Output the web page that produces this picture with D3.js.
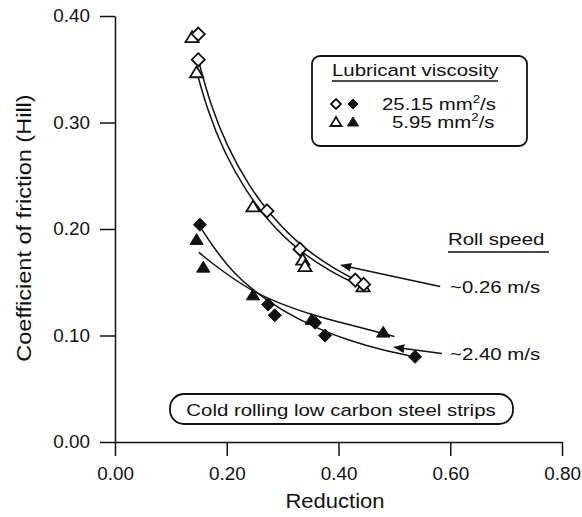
<!DOCTYPE html>
<html>
<head>
<meta charset="utf-8">
<script src="https://cdn.jsdelivr.net/npm/d3@7"></script>
<style>
body { margin: 0; background: white; }
text { font-family: "Liberation Sans", Arial, sans-serif; fill: #111; }
.axis path, .axis line { stroke: #111; stroke-width: 1.5; }
.axis text { font-size: 18px; font-family: "Liberation Sans", Arial, sans-serif; }
.fit { fill: none; stroke: #111; stroke-width: 1.5; }
</style>
</head>
<body>
<div id="chart"></div>
<script>
// -- data

var xTicks = [0, 0.2, 0.4, 0.6, 0.8];
var yTicks = [0, 0.1, 0.2, 0.3, 0.4];

// open symbols: ~0.26 m/s, filled symbols: ~2.40 m/s
var openDiamond = [[0.149, 0.383], [0.149, 0.359], [0.272, 0.217], [0.331, 0.181], [0.430, 0.152], [0.445, 0.148]];
var openTriangle = [[0.138, 0.380], [0.146, 0.347], [0.247, 0.221], [0.336, 0.171], [0.340, 0.165], [0.444, 0.146]];
var filledDiamond = [[0.152, 0.204], [0.274, 0.129], [0.286, 0.119], [0.358, 0.112], [0.376, 0.100], [0.537, 0.080]];
var filledTriangle = [[0.146, 0.190], [0.158, 0.164], [0.247, 0.138], [0.352, 0.115], [0.480, 0.103]];

// fitted curves, traced
var upperDiamondFit = [[0.150, 0.357], [0.170, 0.318], [0.200, 0.278], [0.240, 0.240], [0.280, 0.212], [0.330, 0.185], [0.390, 0.163], [0.450, 0.147]];
var upperTriangleFit = [[0.145, 0.350], [0.165, 0.312], [0.195, 0.272], [0.235, 0.235], [0.275, 0.207], [0.325, 0.181], [0.385, 0.160], [0.445, 0.145]];
var lowerDiamondFit = [[0.155, 0.200], [0.180, 0.180], [0.210, 0.160], [0.250, 0.141], [0.300, 0.123], [0.360, 0.107], [0.420, 0.095], [0.480, 0.086], [0.545, 0.079]];
var lowerTriangleFit = [[0.150, 0.178], [0.190, 0.161], [0.250, 0.140], [0.300, 0.129], [0.360, 0.118], [0.420, 0.110], [0.480, 0.102], [0.500, 0.099]];

// roll speed leaders: [label end, arrow tip]
var leader026 = [[0.582, 0.146], [0.405, 0.166]];
var leader240 = [[0.585, 0.083], [0.500, 0.089]];

// -- setup

var W = 582, H = 517;
var svg = d3.select("#chart").append("svg")
	.attr("width", W)
	.attr("height", H);

var x = d3.scaleLinear().domain([0, 0.8]).range([115, 562]);
var y = d3.scaleLinear().domain([0, 0.4]).range([442, 16]);

// the scan's lettering is wider than Arial, so stretch it a bit
function txt(px, py, str, size, sx, anchor) {
	return svg.append("text")
		.attr("transform", "translate(" + px + "," + py + ") scale(" + sx + ",1)")
		.attr("text-anchor", anchor || "start")
		.style("font-size", size + "px")
		.text(str);
}

svg.append("defs").append("marker")
	.attr("id", "arrow")
	.attr("viewBox", "0 0 10 10")
	.attr("refX", 9).attr("refY", 5)
	.attr("markerWidth", 11).attr("markerHeight", 11)
	.attr("markerUnits", "userSpaceOnUse")
	.attr("orient", "auto")
	.append("path")
	.attr("d", "M0,1 L10,5 L0,9 Z")
	.attr("fill", "#111");

// axes
var xAxis = svg.append("g")
	.attr("class", "axis")
	.attr("transform", "translate(0,442)")
	.call(d3.axisBottom(x).tickValues(xTicks).tickFormat(d3.format(".2f"))
		.tickSize(14).tickSizeOuter(0).tickPadding(11));

var yAxis = svg.append("g")
	.attr("class", "axis")
	.attr("transform", "translate(115,0)")
	.call(d3.axisLeft(y).tickValues(yTicks).tickFormat(d3.format(".2f"))
		.tickSize(15).tickSizeOuter(0).tickPadding(10));

svg.selectAll(".axis text").attr("fill", "#111");
xAxis.selectAll(".tick text").attr("transform", "scale(1.05,1)");
yAxis.selectAll(".tick text").attr("transform", "translate(-25,0) scale(1.05,1) translate(25,0)");

txt(335, 508, "Reduction", 20, 1.1, "middle");

svg.append("text")
	.attr("transform", "translate(31,228) rotate(-90) scale(1.12,1)")
	.attr("text-anchor", "middle")
	.style("font-size", "21px")
	.text("Coefficient of friction (Hill)");

// fitted curves
var line = d3.line().x(d => x(d[0])).y(d => y(d[1])).curve(d3.curveBasis);
[upperDiamondFit, upperTriangleFit, lowerDiamondFit, lowerTriangleFit].forEach(function(s) {
	svg.append("path").attr("class", "fit").attr("d", line(s));
});

// symbols
function diamond(r) {
	return "M0," + (-r) + "L" + r + ",0L0," + r + "L" + (-r) + ",0Z";
}
function triangle(r) {
	return "M0," + (-r) + "L" + (r * 1.1) + "," + (r * 0.8) + "L" + (-r * 1.1) + "," + (r * 0.8) + "Z";
}

function plot(data, shape, filled) {
	svg.append("g").selectAll("path")
		.data(data)
		.enter()
		.append("path")
		.attr("transform", d => "translate(" + x(d[0]) + "," + y(d[1]) + ")")
		.attr("d", shape)
		.attr("fill", filled ? "#111" : "white")
		.attr("stroke", "#111")
		.attr("stroke-width", filled ? 1 : 1.8);
}
plot(openTriangle, triangle(6), false);
plot(openDiamond, diamond(6.5), false);
plot(filledTriangle, triangle(6), true);
plot(filledDiamond, diamond(6.5), true);

// roll speed leaders
[leader026, leader240].forEach(function(s) {
	svg.append("line")
		.attr("x1", x(s[0][0])).attr("y1", y(s[0][1]))
		.attr("x2", x(s[1][0])).attr("y2", y(s[1][1]))
		.attr("stroke", "#111").attr("stroke-width", 1.5)
		.attr("marker-end", "url(#arrow)");
});

txt(448, 245, "Roll speed", 17, 1.2);
svg.append("line")
	.attr("x1", 448).attr("x2", 549).attr("y1", 252).attr("y2", 252)
	.attr("stroke", "#111").attr("stroke-width", 1.5);
txt(450, y(leader026[0][1]) + 6, "~0.26 m/s", 17, 1.2);
txt(450, y(leader240[0][1]) + 6, "~2.40 m/s", 17, 1.2);

// viscosity legend
svg.append("rect")
	.attr("x", 312).attr("y", 56).attr("width", 215).attr("height", 90)
	.attr("rx", 8)
	.attr("fill", "white").attr("stroke", "#111").attr("stroke-width", 1.8);
txt(332, 76, "Lubricant viscosity", 17, 1.2);
svg.append("line")
	.attr("x1", 332).attr("x2", 498).attr("y1", 81).attr("y2", 81)
	.attr("stroke", "#111").attr("stroke-width", 1.5);

var legendRows = [
	{ y: 104, shape: diamond(5), num: "25.15", tx: 382 },
	{ y: 122, shape: triangle(5), num: "5.95", tx: 392 }
];
legendRows.forEach(function(r) {
	svg.append("path").attr("transform", "translate(336," + r.y + ")")
		.attr("d", r.shape).attr("fill", "white").attr("stroke", "#111").attr("stroke-width", 1.8);
	svg.append("path").attr("transform", "translate(353," + r.y + ")")
		.attr("d", r.shape).attr("fill", "#111").attr("stroke", "#111");
	var t = txt(r.tx, r.y + 6, null, 17, 1.2);
	t.append("tspan").text(r.num + " mm");
	t.append("tspan").attr("dy", -7).style("font-size", "11px").text("2");
	t.append("tspan").attr("dy", 7).text("/s");
});

// note box
svg.append("rect")
	.attr("x", 170).attr("y", 394).attr("width", 343).attr("height", 30)
	.attr("rx", 14)
	.attr("fill", "white").attr("stroke", "#111").attr("stroke-width", 1.8);
txt(341, 416, "Cold rolling low carbon steel strips", 17, 1.2, "middle");
</script>
</body>
</html>
